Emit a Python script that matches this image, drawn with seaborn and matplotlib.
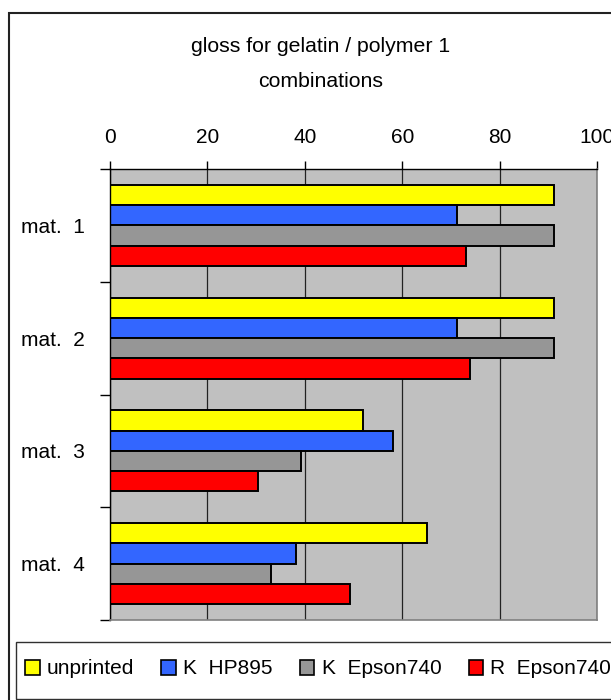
import matplotlib
matplotlib.use("Agg")
import matplotlib.pyplot as plt
from matplotlib.patches import Patch, Rectangle
import seaborn as sns
import pandas as pd

materials = ['mat.  1', 'mat.  2', 'mat.  3', 'mat.  4']
series = ['unprinted', 'K  HP895', 'K  Epson740', 'R  Epson740']
unprinted = [91.2, 91.2, 51.9, 65.1]
k_hp895 = [71.3, 71.3, 58.2, 38.1]
k_epson740 = [91.2, 91.2, 39.3, 33.0]
r_epson740 = [73.0, 74.0, 30.4, 49.3]
colors = ['#FFFF00', '#3366FF', '#969696', '#FF0000']

rows = []
for name, vals in zip(series, [unprinted, k_hp895, k_epson740, r_epson740]):
    for m, v in zip(materials, vals):
        rows.append({'material': m, 'series': name, 'gloss': v})
df = pd.DataFrame(rows)

plt.rcParams['font.family'] = ['Liberation Sans', 'DejaVu Sans']
plt.rcParams['font.size'] = 15

W, H = 611, 700
fig = plt.figure(figsize=(W / 100, H / 100), dpi=100)
ax = fig.add_axes([110 / W, 1 - 620 / H, 487 / W, 451 / H])

sns.barplot(data=df, y='material', x='gloss', hue='series', orient='h',
            palette=colors, saturation=1, width=0.72, edgecolor='black',
            linewidth=1.4, legend=False, ax=ax)

ax.set_facecolor('#C0C0C0')
ax.set_xlim(0, 100)
ax.set_ylim(3.5, -0.5)
ax.set_xlabel('')
ax.set_ylabel('')
ax.set_xticks([0, 20, 40, 60, 80, 100])
ax.xaxis.tick_top()
ax.tick_params(axis='x', length=6, width=1, pad=10, labelsize=15)
ax.set_yticks([-0.5, 0.5, 1.5, 2.5, 3.5], minor=True)
ax.tick_params(axis='y', which='major', length=0, pad=18, labelsize=15)
ax.tick_params(axis='y', which='minor', length=7, width=1)
ax.set_axisbelow(True)
ax.grid(axis='x', color='#222222', linewidth=0.9)
ax.grid(axis='y', visible=False)
for s in ['top', 'left']:
    ax.spines[s].set_color('black')
    ax.spines[s].set_linewidth(1)
for s in ['right', 'bottom']:
    ax.spines[s].set_color('#808080')
    ax.spines[s].set_linewidth(1.2)

fig.text(0.525, 1 - 46.7 / H, 'gloss for gelatin / polymer 1', ha='center', va='center', fontsize=15.3)
fig.text(0.525, 1 - 81.7 / H, 'combinations', ha='center', va='center', fontsize=15.3)

# outer chart border and legend box (both run off the cropped edges)
fig.add_artist(Rectangle((9 / W, -0.05), 1.1, 1 - 12.7 / H + 0.05, transform=fig.transFigure,
                         fill=False, edgecolor='#222222', linewidth=1.5))
fig.add_artist(Rectangle((15.7 / W, 1 - 699 / H), 1.1, 57 / H, transform=fig.transFigure,
                         fill=False, edgecolor='#303030', linewidth=1))

handles = [Patch(facecolor=c, edgecolor='black', linewidth=1.2) for c in colors]
fig.legend(handles, series, loc='center left', bbox_to_anchor=(25 / W, 1 - 669 / H),
           ncol=4, frameon=False, borderpad=0, borderaxespad=0, handlelength=0.7,
           handleheight=0.7, handletextpad=0.35, columnspacing=1.3, fontsize=15)

fig.savefig('out.png', dpi=100)
